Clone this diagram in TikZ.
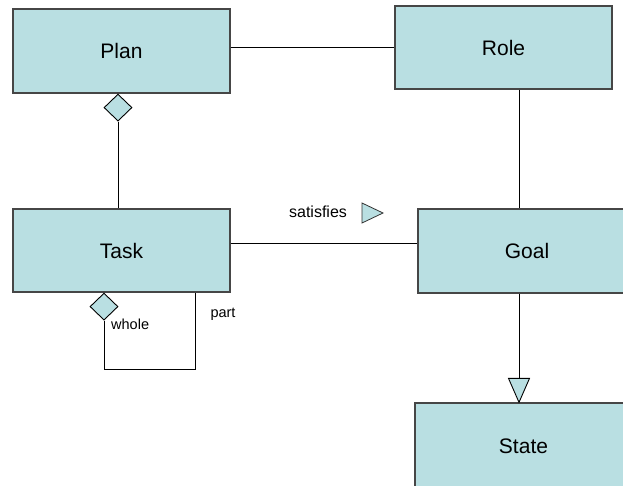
\documentclass[tikz,border=0pt]{standalone}
\usepackage{fontspec}
\setmainfont{Liberation Sans}
\usetikzlibrary{shapes.geometric,calc}
\definecolor{boxfill}{RGB}{185,223,226}
\definecolor{boxedge}{RGB}{70,70,70}
\tikzset{
  cls/.style={rectangle, draw=boxedge, line width=1.3pt, fill=boxfill, inner sep=0pt,
    font=\fontsize{21}{24}\selectfont},
  agg/.style={diamond, draw=black, line width=0.9pt, fill=boxfill, inner sep=0pt,
    minimum width=28pt, minimum height=27pt},
  conn/.style={draw=black, line width=0.9pt},
  lbl/.style={inner sep=0pt, font=\fontsize{14.5}{16}\selectfont},
}
\begin{document}
\begin{tikzpicture}[x=1pt,y=-1pt]
\useasboundingbox (0,0) rectangle (623,485);
\clip (0,0) rectangle (623,485);
% classes
\node[cls, minimum width=217pt, minimum height=84pt] (Plan) at (121.5,51) {Plan};
\node[cls, minimum width=217pt, minimum height=83pt] (Role) at (503.5,47.5) {Role};
\node[cls, minimum width=217pt, minimum height=83pt] (Task) at (121.5,250.5) {Task};
\node[cls, minimum width=218pt, minimum height=84pt] (Goal) at (527,251) {Goal};
\node[cls, minimum width=217pt, minimum height=86pt] (State) at (523.5,446) {State};
\coordinate (gx) at (519,0);
% Plan -- Role
\draw[conn] (Plan.east |- Role.west) -- (Role.west);
% Plan <>-- Task
\node[agg, anchor=north] (pd) at ([xshift=-3.5pt]Plan.south) {};
\draw[conn] (pd.south) -- (pd.south |- Task.north);
% Role -- Goal
\draw[conn] (Role.south -| gx) -- (Goal.north -| gx);
% Task -- Goal (satisfies)
\draw[conn] ([yshift=7.5pt]Task.east) -- ([yshift=7.5pt]Task.east -| Goal.west);
\node[lbl, font=\fontsize{16}{18}\selectfont] (sat) at (318,212) {satisfies};
\draw[line width=0.8pt, draw=black!80, fill=boxfill] (362,203) -- (383,213) -- (362,223) -- cycle;
% Goal --|> State
\coordinate (ta) at (State.north -| gx);
\draw[conn] (Goal.south -| gx) -- ($(ta)+(0,-24)$);
\draw[line width=0.9pt, fill=boxfill] (ta) -- ++(-10.5,-24) -- ++(21,0) -- cycle;
% Task self aggregation
\node[agg, anchor=north] (wd) at ([xshift=-17.5pt]Task.south) {};
\draw[conn] (wd.south) -- ++(0,49) -| ([xshift=73.5pt]Task.south);
\node[lbl, anchor=west] (whole) at (111,324) {whole};
\node[lbl] (part) at (223,314) {part};
\end{tikzpicture}
\end{document}
